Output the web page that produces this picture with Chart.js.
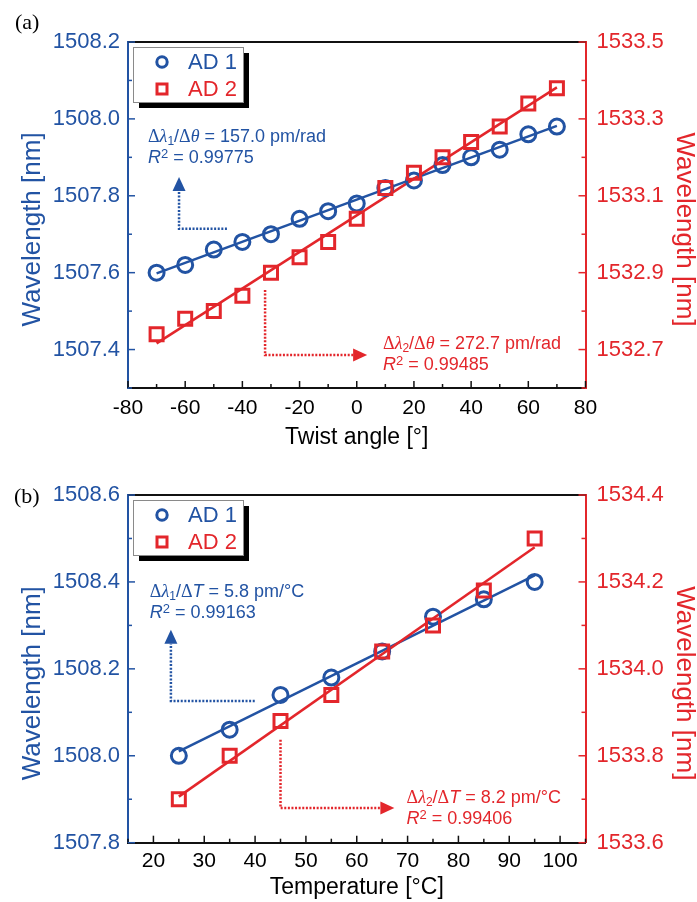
<!DOCTYPE html>
<html>
<head>
<meta charset="utf-8">
<script src="https://cdn.jsdelivr.net/npm/chart.js@4.4.1/dist/chart.umd.min.js"></script>
<style>
html,body{margin:0;padding:0;background:#fff;width:697px;height:902px;overflow:hidden}
.panel{position:absolute;left:0;width:697px;height:451px}
.lbl{position:absolute;font-family:"Liberation Serif","Times New Roman",serif;font-size:22px;color:#000;line-height:1}
</style>
</head>
<body>
<div class="panel" style="top:0"><canvas id="chartA" width="697" height="451"></canvas></div>
<div class="panel" style="top:451px"><canvas id="chartB" width="697" height="451"></canvas></div>
<div class="lbl" style="left:15px;top:11px">(a)</div>
<div class="lbl" style="left:14px;top:485px">(b)</div>
<script>
// ---------------- data ----------------
const seriesNames = ['AD 1', 'AD 2'];

const twistAngles = [-70, -60, -50, -40, -30, -20, -10, 0, 10, 20, 30, 40, 50, 60, 70];
const twistAD1 = [1507.60, 1507.62, 1507.66, 1507.68, 1507.70, 1507.74, 1507.76, 1507.78, 1507.82, 1507.84, 1507.88, 1507.90, 1507.92, 1507.96, 1507.98];
const twistAD2 = [1532.74, 1532.78, 1532.80, 1532.84, 1532.90, 1532.94, 1532.98, 1533.04, 1533.12, 1533.16, 1533.20, 1533.24, 1533.28, 1533.34, 1533.38];
const twistFitX = [-70, 70];
const twistFitAD1 = [1507.598, 1507.982];
const twistFitAD2 = [1532.716, 1533.382];

const tempValues = [25, 35, 45, 55, 65, 75, 85, 95];
const tempAD1 = [1508.00, 1508.06, 1508.14, 1508.18, 1508.24, 1508.32, 1508.36, 1508.40];
const tempAD2 = [1533.70, 1533.80, 1533.88, 1533.94, 1534.04, 1534.10, 1534.18, 1534.30];
const tempFitX = [25, 95];
const tempFitAD1 = [1508.010, 1508.415];
const tempFitAD2 = [1533.706, 1534.280];

const twistXTicks = [-80, -60, -40, -20, 0, 20, 40, 60, 80];
const twistLeftTicks = [1507.4, 1507.6, 1507.8, 1508.0, 1508.2];
const twistRightTicks = [1532.7, 1532.9, 1533.1, 1533.3, 1533.5];
const tempXTicks = [20, 30, 40, 50, 60, 70, 80, 90, 100];
const tempLeftTicks = [1507.8, 1508.0, 1508.2, 1508.4, 1508.6];
const tempRightTicks = [1533.6, 1533.8, 1534.0, 1534.2, 1534.4];

// ---------------- styles ----------------
const BLUE = '#2253a3';
const RED = '#e3262b';
const SANS = '"Liberation Sans", Arial, sans-serif';
const SERIF = '"Liberation Serif", "Times New Roman", serif';

function pts(xs, ys) { return xs.map((x, i) => ({x: x, y: ys[i]})); }
function labelFrom(list, dec) {
  return function (v) {
    return list.some(l => Math.abs(l - v) < 1e-6) ? Number(v).toFixed(dec) : '';
  };
}

// inward tick marks + top frame line
const frame = {
  id: 'frame',
  afterDraw(chart) {
    const ctx = chart.ctx, ca = chart.chartArea;
    ctx.save();
    ctx.strokeStyle = '#111';
    ctx.lineWidth = 2;
    ctx.beginPath();
    ctx.moveTo(ca.left, ca.top);
    ctx.lineTo(ca.right, ca.top);
    ctx.stroke();
    ctx.lineWidth = 1.5;
    Object.values(chart.scales).forEach(s => {
      ctx.strokeStyle = s.options.border.color;
      s.ticks.forEach(t => {
        const major = t.label !== '' && t.label !== undefined;
        const len = major ? 7 : 4;
        const p = s.getPixelForValue(t.value);
        ctx.beginPath();
        if (s.axis === 'x') {
          ctx.moveTo(p, ca.bottom);
          ctx.lineTo(p, ca.bottom - len);
        } else if (s.position === 'left') {
          ctx.moveTo(ca.left, p);
          ctx.lineTo(ca.left + len, p);
        } else {
          ctx.moveTo(ca.right, p);
          ctx.lineTo(ca.right - len, p);
        }
        ctx.stroke();
      });
    });
    ctx.restore();
  }
};

// boxed legend with drop shadow
const boxLegend = {
  id: 'boxLegend',
  afterDraw(chart) {
    const ctx = chart.ctx, ca = chart.chartArea;
    const x = ca.left + 5, y = ca.top + 5, w = 110, h = 55;
    ctx.save();
    ctx.fillStyle = '#000';
    ctx.fillRect(x + 6, y + 6, w, h);
    ctx.fillStyle = '#fff';
    ctx.fillRect(x, y, w, h);
    ctx.strokeStyle = '#8a8a8a';
    ctx.lineWidth = 1;
    ctx.strokeRect(x + 0.5, y + 0.5, w, h);
    const items = chart.data.datasets.filter(d => !d.fit);
    items.forEach((d, i) => {
      const cy = y + 15 + i * 27;
      const mx = x + 29;
      ctx.strokeStyle = d.borderColor;
      ctx.lineWidth = 3;
      ctx.beginPath();
      if (d.pointStyle === 'rect') {
        ctx.rect(mx - 5, cy - 5, 10, 10);
      } else {
        ctx.arc(mx, cy, 5.2, 0, Math.PI * 2);
      }
      ctx.stroke();
      ctx.fillStyle = d.borderColor;
      ctx.font = '22px ' + SANS;
      ctx.textAlign = 'left';
      ctx.textBaseline = 'middle';
      ctx.fillText(d.label, x + 55, cy + 1);
    });
    ctx.restore();
  }
};

// annotation texts and dotted arrows
function segFont(seg, size) {
  const sz = seg.sub ? Math.round(size * 0.68) : (seg.sup ? Math.round(size * 0.74) : size);
  const fam = seg.serif ? SERIF : SANS;
  return (seg.it ? 'italic ' : '') + sz + 'px ' + fam;
}
const notes = {
  id: 'notes',
  afterDraw(chart, args, opts) {
    const ctx = chart.ctx;
    const sx = chart.scales.x, sy = chart.scales.y;
    ctx.save();
    (opts.items || []).forEach(it => {
      // text
      ctx.fillStyle = it.color;
      ctx.textBaseline = 'middle';
      ctx.textAlign = 'left';
      it.lines.forEach((line, li) => {
        let cx = sx.getPixelForValue(it.textX);
        const cy = sy.getPixelForValue(it.textY[li]);
        line.forEach(seg => {
          ctx.font = segFont(seg, 18);
          const dy = seg.sub ? 5 : (seg.sup ? -3.5 : 0);
          ctx.fillText(seg.t, cx, cy + dy);
          cx += ctx.measureText(seg.t).width;
        });
      });
      // dotted polyline with arrowhead at the end
      const p = it.path.map(q => [sx.getPixelForValue(q[0]), sy.getPixelForValue(q[1])]);
      const n = p.length;
      const tip = p[n - 1], prev = p[n - 2];
      const dx = tip[0] - prev[0], dyy = tip[1] - prev[1];
      const L = Math.hypot(dx, dyy), ux = dx / L, uy = dyy / L;
      const headLen = 14, headW = 6.5;
      const base = [tip[0] - ux * headLen, tip[1] - uy * headLen];
      ctx.strokeStyle = it.color;
      ctx.lineWidth = 2.5;
      ctx.setLineDash([2, 1.6]);
      ctx.beginPath();
      ctx.moveTo(p[0][0], p[0][1]);
      for (let i = 1; i < n - 1; i++) ctx.lineTo(p[i][0], p[i][1]);
      ctx.lineTo(base[0], base[1]);
      ctx.stroke();
      ctx.setLineDash([]);
      ctx.beginPath();
      ctx.moveTo(tip[0], tip[1]);
      ctx.lineTo(base[0] - uy * headW, base[1] + ux * headW);
      ctx.lineTo(base[0] + uy * headW, base[1] - ux * headW);
      ctx.closePath();
      ctx.fill();
    });
    ctx.restore();
  }
};

function makeChart(canvasId, cfg) {
  const datasets = [
    {label: seriesNames[0], data: pts(cfg.xs, cfg.ad1), yAxisID: 'y', showLine: false,
     pointStyle: 'circle', pointRadius: 7.5, pointBorderWidth: 3,
     borderColor: BLUE, backgroundColor: 'rgba(0,0,0,0)', order: 1},
    {label: seriesNames[1], data: pts(cfg.xs, cfg.ad2), yAxisID: 'y2', showLine: false,
     pointStyle: 'rect', pointRadius: 9.2, pointBorderWidth: 3,
     borderColor: RED, backgroundColor: 'rgba(0,0,0,0)', order: 0},
    {label: seriesNames[0] + ' fit', fit: true, data: pts(cfg.fitX, cfg.fit1), yAxisID: 'y', showLine: true,
     pointRadius: 0, borderColor: BLUE, borderWidth: 2.5, order: 3},
    {label: seriesNames[1] + ' fit', fit: true, data: pts(cfg.fitX, cfg.fit2), yAxisID: 'y2', showLine: true,
     pointRadius: 0, borderColor: RED, borderWidth: 2.5, order: 2}
  ];
  return new Chart(document.getElementById(canvasId), {
    type: 'scatter',
    data: {datasets: datasets},
    plugins: [frame, boxLegend, notes],
    options: {
      responsive: false,
      animation: false,
      devicePixelRatio: 1,
      layout: {padding: {top: cfg.top, left: 0, right: 0, bottom: 0}},
      plugins: {
        legend: {display: false},
        tooltip: {enabled: false},
        notes: {items: cfg.notes}
      },
      scales: {
        x: {
          type: 'linear', position: 'bottom', min: cfg.xMin, max: cfg.xMax,
          grid: {display: false, drawTicks: false},
          border: {display: true, color: '#111', width: 2},
          ticks: {stepSize: cfg.xStep, autoSkip: false, maxRotation: 0, color: '#000',
                  font: {family: SANS, size: 21}, padding: cfg.xPad, callback: labelFrom(cfg.xTicks, 0)},
          title: {display: true, text: cfg.xTitle, color: '#000',
                  font: {family: SANS, size: 23, lineHeight: 1}, padding: {top: 0, bottom: cfg.xTitlePad}},
          afterFit(s) { s.height = cfg.xHeight; }
        },
        y: {
          type: 'linear', position: 'left', min: cfg.yMin, max: cfg.yMax,
          grid: {display: false, drawTicks: false},
          border: {display: true, color: BLUE, width: 2},
          ticks: {stepSize: 0.1, autoSkip: false, color: BLUE,
                  font: {family: SANS, size: 22}, padding: 8, callback: labelFrom(cfg.yTicks, 1)},
          title: {display: true, text: 'Wavelength [nm]    ', color: BLUE,
                  font: {family: SANS, size: 26, lineHeight: 1}, padding: {top: 20, bottom: 0}},
          afterFit(s) { s.width = 128; }
        },
        y2: {
          type: 'linear', position: 'right', min: cfg.y2Min, max: cfg.y2Max,
          grid: {display: false, drawTicks: false},
          border: {display: true, color: RED, width: 2},
          ticks: {stepSize: 0.1, autoSkip: false, color: RED,
                  font: {family: SANS, size: 22}, padding: 11, callback: labelFrom(cfg.y2Ticks, 1)},
          title: {display: true, text: '    Wavelength [nm]', color: RED,
                  font: {family: SANS, size: 26, lineHeight: 1}, padding: {top: 0, bottom: 0}},
          afterFit(s) { s.width = 111.5; }
        }
      }
    }
  });
}

const lineA1 = [{t: 'Δ', serif: true}, {t: 'λ', serif: true, it: true}, {t: '1', sub: true}, {t: '/'},
                {t: 'Δ', serif: true}, {t: 'θ', serif: true, it: true}, {t: ' = 157.0 pm/rad'}];
const lineA2 = [{t: 'R', it: true}, {t: '2', sup: true}, {t: ' = 0.99775'}];
const lineA3 = [{t: 'Δ', serif: true}, {t: 'λ', serif: true, it: true}, {t: '2', sub: true}, {t: '/'},
                {t: 'Δ', serif: true}, {t: 'θ', serif: true, it: true}, {t: ' = 272.7 pm/rad'}];
const lineA4 = [{t: 'R', it: true}, {t: '2', sup: true}, {t: ' = 0.99485'}];
const lineB1 = [{t: 'Δ', serif: true}, {t: 'λ', serif: true, it: true}, {t: '1', sub: true}, {t: '/'},
                {t: 'Δ', serif: true}, {t: 'T', it: true}, {t: ' = 5.8 pm/°C'}];
const lineB2 = [{t: 'R', it: true}, {t: '2', sup: true}, {t: ' = 0.99163'}];
const lineB3 = [{t: 'Δ', serif: true}, {t: 'λ', serif: true, it: true}, {t: '2', sub: true}, {t: '/'},
                {t: 'Δ', serif: true}, {t: 'T', it: true}, {t: ' = 8.2 pm/°C'}];
const lineB4 = [{t: 'R', it: true}, {t: '2', sup: true}, {t: ' = 0.99406'}];

makeChart('chartA', {
  xs: twistAngles, ad1: twistAD1, ad2: twistAD2,
  fitX: twistFitX, fit1: twistFitAD1, fit2: twistFitAD2,
  xMin: -80, xMax: 80, xStep: 10, xTicks: twistXTicks,
  yMin: 1507.3, yMax: 1508.2, yTicks: twistLeftTicks,
  y2Min: 1532.6, y2Max: 1533.5, y2Ticks: twistRightTicks,
  xTitle: 'Twist angle [°]', top: 42, xHeight: 63, xPad: 7.4, xTitlePad: 1.5,
  notes: [
    {color: BLUE, lines: [lineA1, lineA2], textX: -73.0, textY: [1507.953, 1507.898],
     path: [[-45.4, 1507.714], [-62.15, 1507.714], [-62.15, 1507.849]]},
    {color: RED, lines: [lineA3, lineA4], textX: 9.2, textY: [1507.414, 1507.360],
     path: [[-32.06, 1507.555], [-32.06, 1507.386], [3.63, 1507.386]]}
  ]
});

makeChart('chartB', {
  xs: tempValues, ad1: tempAD1, ad2: tempAD2,
  fitX: tempFitX, fit1: tempFitAD1, fit2: tempFitAD2,
  xMin: 15, xMax: 105, xStep: 5, xTicks: tempXTicks,
  yMin: 1507.8, yMax: 1508.6, yTicks: tempLeftTicks,
  y2Min: 1533.6, y2Max: 1534.4, y2Ticks: tempRightTicks,
  xTitle: 'Temperature [°C]', top: 44, xHeight: 59.3, xPad: 6.4, xTitlePad: 2.5,
  notes: [
    {color: BLUE, lines: [lineB1, lineB2], textX: 19.3, textY: [1508.377, 1508.329],
     path: [[39.93, 1508.126], [23.44, 1508.126], [23.44, 1508.290]]},
    {color: RED, lines: [lineB3, lineB4], textX: 69.8, textY: [1507.903, 1507.855],
     path: [[45.0, 1508.037], [45.0, 1507.880], [67.4, 1507.880]]}
  ]
});
</script>
</body>
</html>
